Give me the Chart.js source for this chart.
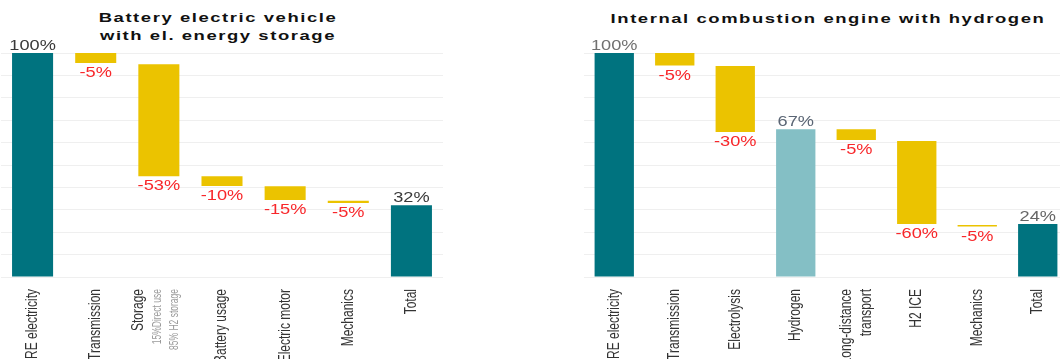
<!DOCTYPE html>
<html>
<head>
<meta charset="utf-8">
<script src="https://cdn.jsdelivr.net/npm/chart.js@4.4.1/dist/chart.umd.min.js"></script>
<style>
html, body { margin: 0; padding: 0; background: #fff; width: 1060px; height: 359px; overflow: hidden; position: relative; font-family: 'Liberation Sans', Arial, sans-serif; }
.title { position: absolute; font-weight: bold; font-size: 13px; color: #111; text-align: center; white-space: nowrap; letter-spacing: 1.1px; line-height: 18px; transform: scaleX(1.42); transform-origin: center top; }
#titleL { left: 68px; top: 9px; width: 300px; }
#titleR { left: 628px; top: 10px; width: 400px; }
#wrapL { position: absolute; left: 0; top: 0; width: 445px; height: 377px; }
#wrapR { position: absolute; left: 580px; top: 0; width: 490px; height: 377px; }
</style>
</head>
<body>
<div class="title" id="titleL">Battery electric vehicle<br>with el. energy storage</div>
<div class="title" id="titleR">Internal combustion engine with hydrogen</div>
<div id="wrapL"><canvas id="bev"></canvas></div>
<div id="wrapR"><canvas id="ice"></canvas></div>
<script>
// Battery electric vehicle (share of the original RE electricity, %)
const bevCategories = ['RE electricity', 'Transmission', 'Storage', 'Battery usage', 'Electric motor', 'Mechanics', 'Total'];
const bevNotes = ['', '', ['15%Direct use', '85% H2 storage'], '', '', '', ''];
const bevFrom = [0, 100, 95, 45, 40.5, 34, 0];
const bevTo = [100, 95.5, 45, 40.6, 34.4, 33, 32];
const bevLabels = ['100%', '-5%', '-53%', '-10%', '-15%', '-5%', '32%'];

// Internal combustion engine with hydrogen
const iceCategories = ['RE electricity', 'Transmission', 'Electrolysis', 'Hydrogen', ['Long-distance', 'transport'], 'H2 ICE', 'Mechanics', 'Total'];
const iceNotes = ['', '', '', '', '', '', '', ''];
const iceFrom = [0, 100, 94.2, 0, 66, 60.7, 23.2, 0];
const iceTo = [100, 94.4, 64.7, 66, 61.2, 23.7, 22.5, 23.7];
const iceLabels = ['100%', '-5%', '-30%', '67%', '-5%', '-60%', '-5%', '24%'];

const TEAL = '#00737f';
const GOLD = '#ebc300';
const LIGHT = '#84bfc5';
const RED = '#f8272b';
const FONT = '"Liberation Sans", Arial, sans-serif';

const valueLabelPlugin = {
  id: 'valueLabels',
  afterDatasetsDraw(chart, args, opts) {
    const ctx = chart.ctx;
    const meta = chart.getDatasetMeta(0);
    meta.data.forEach((bar, i) => {
      const top = Math.min(bar.y, bar.base);
      const bottom = Math.max(bar.y, bar.base);
      const loss = opts.texts[i].startsWith('-');
      ctx.save();
      ctx.translate(bar.x, loss ? bottom + 14 : top - 3);
      ctx.scale(1.3, 1);
      ctx.font = '14px ' + FONT;
      ctx.textAlign = 'center';
      ctx.textBaseline = 'alphabetic';
      ctx.fillStyle = loss ? RED : opts.colors[i];
      ctx.fillText(opts.texts[i], 0, 0);
      ctx.restore();
    });
  }
};

const axisLabelPlugin = {
  id: 'axisLabels',
  afterDraw(chart, args, opts) {
    const ctx = chart.ctx;
    const xs = chart.scales.x;
    const y0 = chart.chartArea.bottom + 12;
    chart.data.labels.forEach((lab, i) => {
      const lines = [];
      [].concat(lab).forEach(t => lines.push({ t, small: false }));
      const notes = opts.notes[i];
      if (notes) [].concat(notes).forEach(t => lines.push({ t, small: true }));
      const sizes = lines.map(l => l.small ? 17 : 20);
      const total = sizes.reduce((a, b) => a + b, 0);
      let off = xs.getPixelForValue(i) - total / 2 - (notes ? 3 : 0);
      lines.forEach((l, j) => {
        const cx = off + sizes[j] / 2;
        off += sizes[j];
        ctx.save();
        ctx.translate(cx, y0);
        ctx.scale(l.small ? 1.5 : 1.35, 1);
        ctx.rotate(-Math.PI / 2);
        ctx.font = (l.small ? '8.5px ' : '12px ') + FONT;
        ctx.fillStyle = l.small ? '#9a9a9a' : '#333';
        ctx.textAlign = 'right';
        ctx.textBaseline = 'middle';
        ctx.fillText(l.t, 0, 0);
        ctx.restore();
      });
    });
  }
};

function waterfall(id, categories, from, to, colors, texts, textColors, notes, pad) {
  return new Chart(document.getElementById(id), {
    type: 'bar',
    data: {
      labels: categories,
      datasets: [{
        data: from.map((v, i) => [v, to[i]]),
        backgroundColor: colors,
        borderWidth: 0,
        barPercentage: 0.65,
        categoryPercentage: 1
      }]
    },
    options: {
      responsive: true,
      maintainAspectRatio: false,
      animation: false,
      layout: { padding: pad },
      plugins: {
        legend: { display: false },
        tooltip: { enabled: false },
        valueLabels: { texts, colors: textColors },
        axisLabels: { notes }
      },
      scales: {
        x: {
          ticks: { display: false },
          grid: { display: false },
          border: { display: false },
          afterFit(s) { s.height = 100; }
        },
        y: {
          min: 0,
          max: 100,
          ticks: { display: false, stepSize: 10 },
          grid: { color: '#efefef', drawTicks: false },
          border: { display: false },
          afterFit(s) { s.width = 0; }
        }
      }
    },
    plugins: [valueLabelPlugin, axisLabelPlugin]
  });
}

waterfall('bev', bevCategories, bevFrom, bevTo,
  [TEAL, GOLD, GOLD, GOLD, GOLD, GOLD, TEAL],
  bevLabels, ['#3a3a3a', RED, RED, RED, RED, RED, '#3a3a3a'],
  bevNotes, { left: 1, right: 2, top: 53, bottom: 0 });

waterfall('ice', iceCategories, iceFrom, iceTo,
  [TEAL, GOLD, GOLD, LIGHT, GOLD, GOLD, GOLD, TEAL],
  iceLabels, ['#707070', RED, RED, '#5b6675', RED, RED, RED, '#666'],
  iceNotes, { left: 4, right: 2, top: 53, bottom: 0 });
</script>
</body>
</html>
